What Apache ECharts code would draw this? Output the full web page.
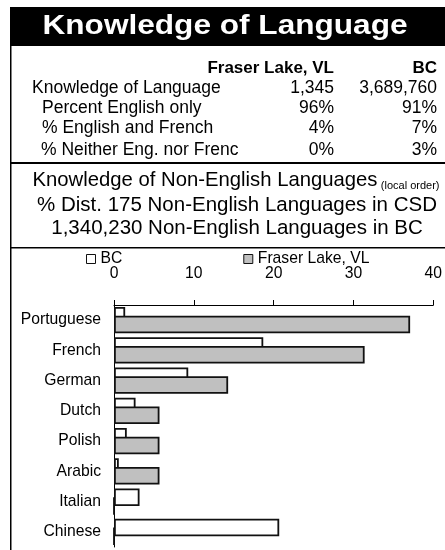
<!DOCTYPE html>
<html>
<head>
<meta charset="utf-8">
<script src="https://cdn.jsdelivr.net/npm/echarts@6/dist/echarts.min.js"></script>
<style>
  html, body { margin: 0; padding: 0; background: #fff; }
  #myChart { width: 445px; height: 550px; }
</style>
</head>
<body>
<div id="myChart"></div>
<script>
// 数据
var categories = ['Portuguese', 'French', 'German', 'Dutch', 'Polish', 'Arabic', 'Italian', 'Chinese'];
var bcValues = [1.4, 18.7, 9.3, 2.7, 1.6, 0.6, 3.2, 20.7];
var fraserValues = [37.1, 31.4, 14.3, 5.7, 5.7, 5.7, 0, 0];
var seriesNames = ['BC', 'Fraser Lake, VL'];

var tableHeader = ['Fraser Lake, VL', 'BC'];
var rowLabels = ['Knowledge of Language', 'Percent English only', '% English and French', '% Neither Eng. nor French'];
var fraserColumn = ['1,345', '96%', '4%', '0%'];
var bcColumn = ['3,689,760', '91%', '7%', '3%'];
var subTitles = ['% Dist. 175 Non-English Languages in CSD', '1,340,230 Non-English Languages in BC'];

var FONT = "'Liberation Sans', Arial, sans-serif";

// 表格部分 (graphic)
var rowY = [88, 108, 128.5, 150.5];
var rowX = [32, 42, 42, 41];
var graphics = [
  {type: 'rect', shape: {x: 10, y: 7, width: 435, height: 39}, style: {fill: '#000'}},
  {type: 'text', x: 225, y: 27, scaleX: 1.17,
    style: {text: 'Knowledge of Language', font: 'bold 27px ' + FONT, fill: '#fff', textAlign: 'center', textVerticalAlign: 'middle'}},
  {type: 'rect', shape: {x: 10, y: 7, width: 1.5, height: 543}, style: {fill: '#000'}},
  {type: 'rect', shape: {x: 10, y: 162, width: 435, height: 2}, style: {fill: '#000'}},
  {type: 'rect', shape: {x: 10, y: 247, width: 435, height: 1.5}, style: {fill: '#000'}},
  {type: 'text', x: 334, y: 68,
    style: {text: tableHeader[0], font: 'bold 17px ' + FONT, fill: '#000', textAlign: 'right', textVerticalAlign: 'middle'}},
  {type: 'text', x: 437, y: 68,
    style: {text: tableHeader[1], font: 'bold 17px ' + FONT, fill: '#000', textAlign: 'right', textVerticalAlign: 'middle'}}
];
for (var i = 0; i < rowLabels.length; i++) {
  graphics.push({type: 'text', x: rowX[i], y: rowY[i],
    style: {text: rowLabels[i], font: '17.5px ' + FONT, fill: '#000', textVerticalAlign: 'middle',
      width: 243 - rowX[i], overflow: 'truncate', ellipsis: ''}});
  graphics.push({type: 'text', x: 334, y: rowY[i],
    style: {text: fraserColumn[i], font: '17.5px ' + FONT, fill: '#000', textAlign: 'right', textVerticalAlign: 'middle'}});
  graphics.push({type: 'text', x: 437, y: rowY[i],
    style: {text: bcColumn[i], font: '17.5px ' + FONT, fill: '#000', textAlign: 'right', textVerticalAlign: 'middle'}});
}
graphics.push({type: 'text', x: 236, y: 180,
  style: {
    text: '{a|Knowledge of Non-English Languages} {b|(local order)}',
    textAlign: 'center', textVerticalAlign: 'middle',
    rich: {
      a: {font: '20.3px ' + FONT, fill: '#000', lineHeight: 22},
      b: {font: '11px ' + FONT, fill: '#000', lineHeight: 22, verticalAlign: 'bottom', padding: [1, 0, 0, 0]}
    }
  }});
graphics.push({type: 'text', x: 237, y: 205,
  style: {text: subTitles[0], font: '20.5px ' + FONT, fill: '#000', textAlign: 'center', textVerticalAlign: 'middle'}});
graphics.push({type: 'text', x: 237, y: 228,
  style: {text: subTitles[1], font: '20.5px ' + FONT, fill: '#000', textAlign: 'center', textVerticalAlign: 'middle'}});

var myChart = echarts.init(document.getElementById('myChart'));
myChart.setOption({
  animation: false,
  backgroundColor: '#fff',
  textStyle: {fontFamily: FONT},
  graphic: graphics,
  legend: {
    data: seriesNames,
    left: 81,
    top: 246,
    icon: 'rect',
    itemWidth: 9,
    itemHeight: 9,
    itemGap: 121,
    textStyle: {fontSize: 15.7, color: '#000', fontFamily: FONT},
    itemStyle: {borderWidth: 1}
  },
  grid: {left: 114, right: 7, top: 305, bottom: 3, containLabel: false},
  xAxis: {
    type: 'value',
    position: 'top',
    min: 0,
    max: 40,
    interval: 10,
    axisLine: {show: true, lineStyle: {color: '#000', width: 1}},
    axisTick: {show: true, inside: false, length: 5, lineStyle: {color: '#000'}},
    axisLabel: {fontSize: 15.7, color: '#000', margin: 23, fontFamily: FONT},
    splitLine: {show: false}
  },
  yAxis: {
    type: 'category',
    inverse: true,
    data: categories,
    axisLine: {show: true, lineStyle: {color: '#000', width: 1}},
    axisTick: {show: false},
    axisLabel: {fontSize: 15.7, color: '#000', margin: 13, fontFamily: FONT}
  },
  series: [
    {
      name: seriesNames[0],
      type: 'bar',
      data: bcValues,
      barWidth: 17.5,
      barGap: '-50%',
      itemStyle: {color: '#fff', borderColor: '#111', borderWidth: 1.8}
    },
    {
      name: seriesNames[1],
      type: 'bar',
      data: fraserValues,
      barWidth: 17.5,
      barGap: '-50%',
      itemStyle: {color: '#c0c0c0', borderColor: '#111', borderWidth: 1.8}
    }
  ]
});
</script>
</body>
</html>
